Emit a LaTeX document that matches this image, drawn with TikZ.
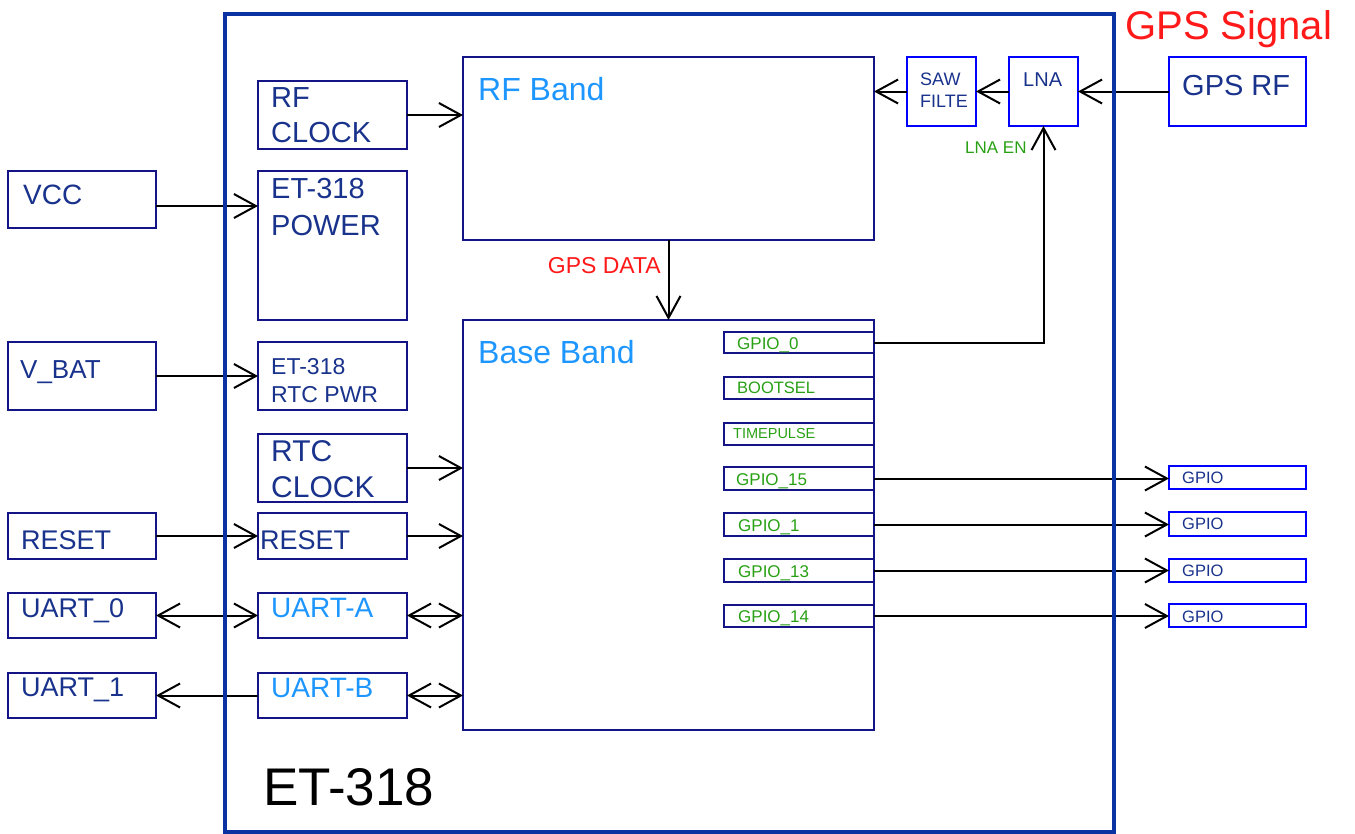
\documentclass[tikz,border=0pt]{standalone}
\usepackage{fontspec}
\setmainfont{Liberation Sans}
\usetikzlibrary{arrows.meta}
\definecolor{outerc}{RGB}{10,50,160}
\definecolor{navyc}{RGB}{20,20,135}
\definecolor{bblue}{RGB}{0,0,255}
\definecolor{dtext}{RGB}{25,50,140}
\definecolor{ltblue}{RGB}{30,150,255}
\definecolor{gtext}{RGB}{40,160,20}
\definecolor{rtext}{RGB}{255,25,25}
\newcommand\fsz[2]{\fontsize{#1}{#2}\selectfont}
\begin{document}
\begin{tikzpicture}[x=1pt,y=-1pt,
  nbox/.style={draw=navyc,line width=2.5pt,rectangle,inner sep=0pt,outer sep=0pt,anchor=north west},
  bbox/.style={draw=bblue,line width=2.5pt,rectangle,inner sep=0pt,outer sep=0pt,anchor=north west},
  txt/.style={inner sep=0pt,anchor=north west,align=left,text=dtext},
  conn/.style={line width=2pt,draw=black},
  >={Straight Barb[length=22pt,width=24pt]},
  pinbox/.style={nbox,minimum width=150pt},
  gbox/.style={bbox,minimum width=137pt},
  pintxt/.style={txt,text=gtext,font=\fsz{17}{20}},
  gtxt/.style={txt,font=\fsz{16.5}{20}}
]
\useasboundingbox (0,0) rectangle (1355,833);

% ---- boxes
\node[nbox,minimum width=411pt,minimum height=183pt] (rfband) at (463,57) {};
\node[nbox,minimum width=411pt,minimum height=410pt] (baseband) at (463,320) {};
\node[nbox,minimum width=149pt,minimum height=68pt] (rfclk) at (258,81) {};
\node[nbox,minimum width=149pt,minimum height=149pt] (pwr) at (258,171) {};
\node[nbox,minimum width=149pt,minimum height=68pt] (rtcpwr) at (258,342) {};
\node[nbox,minimum width=149pt,minimum height=68pt] (rtcclk) at (258,434) {};
\node[nbox,minimum width=149pt,minimum height=46pt] (rst2) at (258,513) {};
\node[nbox,minimum width=149pt,minimum height=45pt] (uarta) at (258,593) {};
\node[nbox,minimum width=149pt,minimum height=45pt] (uartb) at (258,673) {};
\node[nbox,minimum width=148pt,minimum height=57pt] (vcc) at (8,171) {};
\node[nbox,minimum width=148pt,minimum height=68pt] (vbat) at (8,342) {};
\node[nbox,minimum width=148pt,minimum height=46pt] (rst1) at (8,513) {};
\node[nbox,minimum width=148pt,minimum height=45pt] (uart0) at (8,593) {};
\node[nbox,minimum width=148pt,minimum height=45pt] (uart1) at (8,673) {};
\node[bbox,minimum width=69pt,minimum height=69pt] (saw) at (907,57) {};
\node[bbox,minimum width=69pt,minimum height=69pt] (lna) at (1009,57) {};
\node[bbox,minimum width=137pt,minimum height=69pt] (gpsrf) at (1169,57) {};

\node[pinbox,minimum height=21pt] (p0) at (724,332) {};
\node[pinbox,minimum height=22pt] (pboot) at (724,377) {};
\node[pinbox,minimum height=22pt] (ptp) at (724,423) {};
\node[pinbox,minimum height=23pt] (p15) at (724,467) {};
\node[pinbox,minimum height=23pt] (p1) at (724,513) {};
\node[pinbox,minimum height=23pt] (p13) at (724,559) {};
\node[pinbox,minimum height=22pt] (p14) at (724,605) {};

\node[gbox,minimum height=23pt] (g1) at (1169,466) {};
\node[gbox,minimum height=24pt] (g2) at (1169,512) {};
\node[gbox,minimum height=23pt] (g3) at (1169,559) {};
\node[gbox,minimum height=23pt] (g4) at (1169,604) {};

% ---- texts
\node[txt,text=rtext,font=\fsz{40}{46}] (tsig) at (1125,10) {GPS Signal};
\node[txt,font=\fsz{29}{34}] (tgpsrf) at (1182,75) {GPS RF};
\node[txt,font=\fsz{20}{24}] (tlna) at (1023,73) {LNA};
\node[txt,font=\fsz{18}{22}] (tsaw) at (920,73) {SAW\\FILTE};
\node[txt,text=gtext,font=\fsz{17}{20}] (tlnaen) at (965,142) {LNA EN};
\node[txt,text=ltblue,font=\fsz{32}{38}] (trf) at (478,77) {RF Band};
\node[txt,text=ltblue,font=\fsz{32}{38}] (tbb) at (478,340) {Base Band};
\node[txt,text=rtext,font=\fsz{23}{27},anchor=north east] (tdata) at (661,257) {GPS DATA};
\node[txt,font=\fsz{29}{35}] (trfclk) at (271,87) {RF\\CLOCK};
\node[txt,font=\fsz{29}{37}] (tpwr) at (271,178) {ET-318\\POWER};
\node[txt,font=\fsz{28}{32}] (tvcc) at (23,185) {VCC};
\node[txt,font=\fsz{26}{30}] (tvbat) at (20,360) {V\_BAT};
\node[txt,font=\fsz{23}{28}] (trtcpwr) at (271,358) {ET-318\\RTC PWR};
\node[txt,font=\fsz{30}{36}] (trtcclk) at (271,440) {RTC\\CLOCK};
\node[txt,font=\fsz{27}{32}] (trst1) at (21,530) {RESET};
\node[txt,font=\fsz{27}{32}] (trst2) at (260,530) {RESET};
\node[txt,font=\fsz{27}{32}] (tuart0) at (21,598) {UART\_0};
\node[txt,text=ltblue,font=\fsz{28}{32}] (tuarta) at (271,598) {UART-A};
\node[txt,font=\fsz{27}{32}] (tuart1) at (21,678) {UART\_1};
\node[txt,text=ltblue,font=\fsz{28}{32}] (tuartb) at (271,678) {UART-B};
\node[txt,text=black,font=\fsz{53}{60}] (tet) at (263,768) {ET-318};

\node[pintxt] (tp0) at (737,337) {GPIO\_0};
\node[pintxt,font=\fsz{16.5}{20}] (tpboot) at (737,382) {BOOTSEL};
\node[pintxt,font=\fsz{14.5}{18}] (tptp) at (733,428) {TIMEPULSE};
\node[pintxt] (tp15) at (736,473) {GPIO\_15};
\node[pintxt] (tp1) at (738,519) {GPIO\_1};
\node[pintxt] (tp13) at (738,565) {GPIO\_13};
\node[pintxt] (tp14) at (738,610) {GPIO\_14};

\node[gtxt] (tg1) at (1182,472) {GPIO};
\node[gtxt] (tg2) at (1182,518) {GPIO};
\node[gtxt] (tg3) at (1182,565) {GPIO};
\node[gtxt] (tg4) at (1182,611) {GPIO};

% ---- connectors
\draw[conn,->] (gpsrf.west) -- (lna.east);
\draw[conn,->] (lna.west) -- (saw.east);
\draw[conn,->] (saw.west) -- (saw.west -| rfband.east);
\draw[conn,->] (p0.east) -| (lna.south);
\draw[conn,->] (rfband.south) -- (baseband.north);
\draw[conn,->] (rfclk.east) -- (rfclk.east -| rfband.west);
\coordinate (vccout) at ([yshift=-6.5pt]vcc.east);
\draw[conn,->] (vccout) -- (vccout -| pwr.west);
\draw[conn,->] (vbat.east) -- (vbat.east -| rtcpwr.west);
\draw[conn,->] (rtcclk.east) -- (rtcclk.east -| baseband.west);
\draw[conn,->] (rst1.east) -- (rst2.west);
\draw[conn,->] (rst2.east) -- (rst2.east -| baseband.west);
\draw[conn,<->] (uart0.east) -- (uarta.west);
\draw[conn,<->] (uarta.east) -- (uarta.east -| baseband.west);
\draw[conn,->] (uartb.west) -- (uart1.east);
\draw[conn,<->] (uartb.east) -- (uartb.east -| baseband.west);
\draw[conn,->] (p15.east) -- (p15.east -| g1.west);
\draw[conn,->] (p1.east) -- (p1.east -| g2.west);
\draw[conn,->] (p13.east) -- (p13.east -| g3.west);
\draw[conn,->] (p14.east) -- (p14.east -| g4.west);

% ---- outer module
\node[draw=outerc,line width=4pt,rectangle,inner sep=0pt,anchor=north west,minimum width=889pt,minimum height=818pt] (et) at (223,12) {};
\end{tikzpicture}
\end{document}
